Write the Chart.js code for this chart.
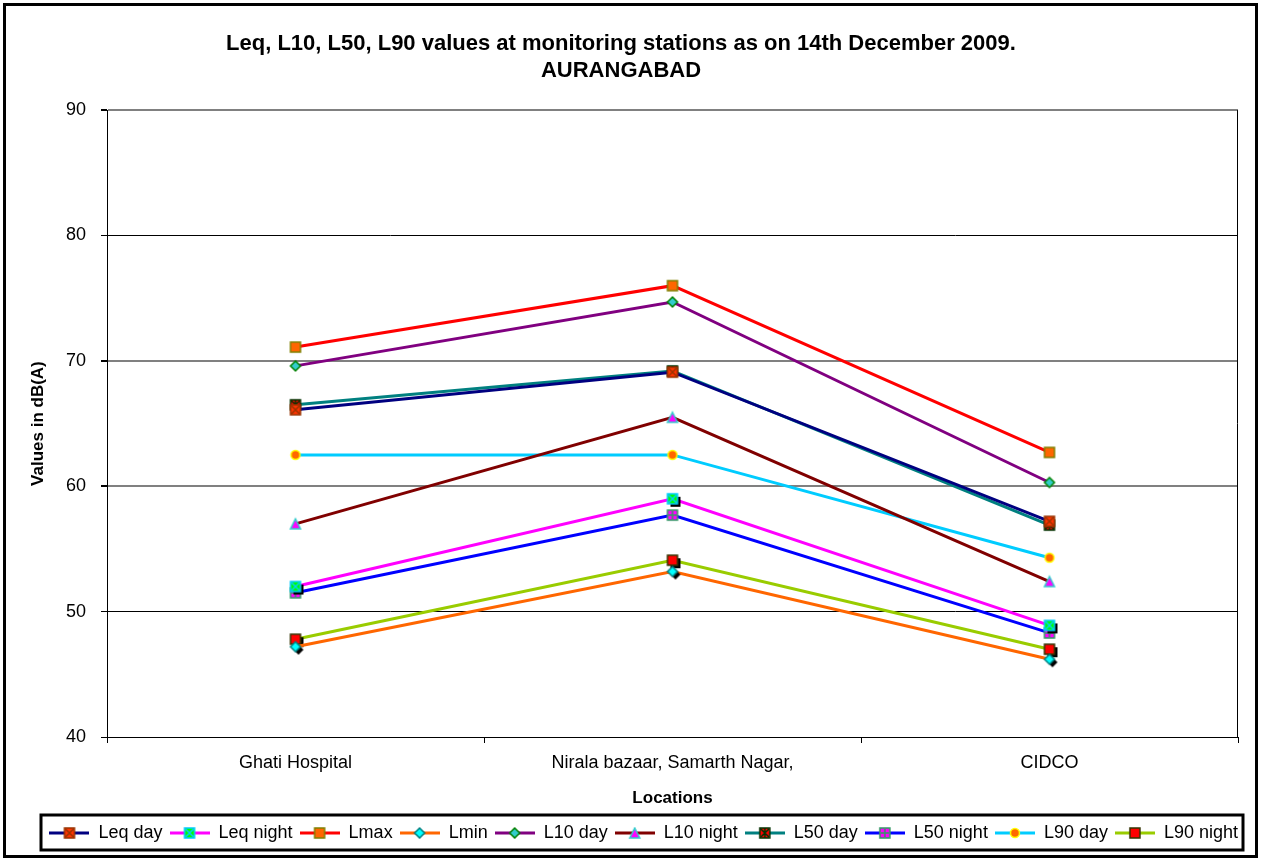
<!DOCTYPE html>
<html>
<head>
<meta charset="utf-8">
<script src="https://cdn.jsdelivr.net/npm/chart.js@4"></script>
<style>
  html, body { margin: 0; padding: 0; background: #fff; }
  #wrap { position: absolute; left: 0; top: 0; width: 1262px; height: 862px; }
</style>
</head>
<body>
<div id="wrap"><canvas id="myChart" width="1262" height="862"></canvas></div>
<script>
// locations on the x axis
const locations = ["Ghati Hospital", "Nirala bazaar, Samarth Nagar,", "CIDCO"];
const yTicks = [40, 50, 60, 70, 80, 90];

// values in dB(A)
const leqDay    = [66.1, 69.1, 57.2];
const leqNight  = [52.0, 59.0, 48.9];
const lmax      = [71.1, 76.0, 62.7];
const lmin      = [47.2, 53.2, 46.2];
const l10Day    = [69.6, 74.7, 60.3];
const l10Night  = [57.0, 65.5, 52.4];
const l50Day    = [66.5, 69.2, 56.9];
const l50Night  = [51.5, 57.7, 48.3];
const l90Day    = [62.5, 62.5, 54.3];
const l90Night  = [47.8, 54.1, 47.0];

const FONT = "'Liberation Sans', Arial, sans-serif";

// little canvases for the excel style markers
const makeMarker = (kind, fill, stroke, extra, lineColor, shadow) => {
    const w = lineColor ? 40 : 20;
    const h = lineColor ? 12 : 20;
    const c = document.createElement("canvas");
    c.width = w; c.height = h;
    const g = c.getContext("2d");
    const cx = w / 2, cy = h / 2;
    if (lineColor) {
        g.strokeStyle = lineColor;
        g.lineWidth = 3;
        g.beginPath(); g.moveTo(0, cy); g.lineTo(w, cy); g.stroke();
    }
    const shape = (x, y) => {
        g.beginPath();
        if (kind == "square") {
            g.rect(x - 5, y - 5, 10, 10);
        } else if (kind == "diamond") {
            g.moveTo(x, y - 5); g.lineTo(x + 5, y); g.lineTo(x, y + 5); g.lineTo(x - 5, y); g.closePath();
        } else if (kind == "triangle") {
            g.moveTo(x, y - 5); g.lineTo(x + 5, y + 5); g.lineTo(x - 5, y + 5); g.closePath();
        } else if (kind == "circle") {
            g.arc(x, y, 4.5, 0, Math.PI * 2);
        }
    };
    if (shadow && !lineColor) {
        g.fillStyle = "#000";
        shape(cx + 3, cy + 3);
        g.fill();
    }
    g.fillStyle = fill;
    g.strokeStyle = stroke;
    g.lineWidth = 1.5;
    shape(cx, cy);
    g.fill();
    g.stroke();
    g.beginPath();
    if (extra == "x" || extra == "star") {
        g.moveTo(cx - 4, cy - 4); g.lineTo(cx + 4, cy + 4);
        g.moveTo(cx + 4, cy - 4); g.lineTo(cx - 4, cy + 4);
    }
    if (extra == "star") {
        g.moveTo(cx, cy - 5); g.lineTo(cx, cy + 5);
    }
    if (extra == "plus") {
        g.moveTo(cx, cy - 4); g.lineTo(cx, cy + 4);
        g.moveTo(cx - 4, cy); g.lineTo(cx + 4, cy);
    }
    g.stroke();
    return c;
};

const series = [
    { label: "Leq day",   data: leqDay,   line: "#000080", kind: "square",   fill: "#FF3300", stroke: "#993300", extra: "x" },
    { label: "Leq night", data: leqNight, line: "#FF00FF", kind: "square",   fill: "#00FF00", stroke: "#00CCFF", extra: "x", shadow: true },
    { label: "Lmax",      data: lmax,     line: "#FF0000", kind: "square",   fill: "#FF6600", stroke: "#808000" },
    { label: "Lmin",      data: lmin,     line: "#FF6600", kind: "diamond",  fill: "#00FFFF", stroke: "#008080", shadow: true },
    { label: "L10 day",   data: l10Day,   line: "#800080", kind: "diamond",  fill: "#33CCCC", stroke: "#008000" },
    { label: "L10 night", data: l10Night, line: "#800000", kind: "triangle", fill: "#FF00FF", stroke: "#33CCCC" },
    { label: "L50 day",   data: l50Day,   line: "#008080", kind: "square",   fill: "#FF0000", stroke: "#003300", extra: "star" },
    { label: "L50 night", data: l50Night, line: "#0000FF", kind: "square",   fill: "#FF00FF", stroke: "#339966", extra: "plus" },
    { label: "L90 day",   data: l90Day,   line: "#00CCFF", kind: "circle",   fill: "#FF6600", stroke: "#FFFF00" },
    { label: "L90 night", data: l90Night, line: "#99CC00", kind: "square",   fill: "#FF0000", stroke: "#333300", shadow: true }
];

const datasets = series.map(s => ({
    label: s.label,
    data: s.data,
    borderColor: s.line,
    backgroundColor: s.line,
    borderWidth: 3,
    tension: 0,
    pointStyle: makeMarker(s.kind, s.fill, s.stroke, s.extra, null, s.shadow),
    legendStyle: makeMarker(s.kind, s.fill, s.stroke, s.extra, s.line),
    pointRadius: 5,
    pointHoverRadius: 5
}));

// black frame round the whole picture, the plot area's right side and the legend
const frames = {
    id: "frames",
    afterLayout(chart) {
        // legend sits a bit right of the plot's centre in the original
        chart.legend.left += 7;
        chart.legend.right += 7;
    },
    beforeDatasetsDraw(chart) {
        const ctx = chart.ctx;
        const a = chart.chartArea;
        ctx.save();
        ctx.strokeStyle = "#000";
        ctx.lineWidth = 1;
        ctx.beginPath();
        ctx.moveTo(Math.round(a.right) - 0.5, a.top);
        ctx.lineTo(Math.round(a.right) - 0.5, a.bottom);
        ctx.stroke();
        ctx.restore();
    },
    afterDraw(chart) {
        const ctx = chart.ctx;
        ctx.save();
        ctx.strokeStyle = "#000";
        ctx.lineWidth = 3;
        ctx.strokeRect(4.5, 4.5, 1252, 852);
        const boxes = chart.legend.legendHitBoxes;
        if (boxes && boxes.length) {
            const l = 41, r = 1243;
            const t = boxes[0].top - 9;
            const b = boxes[0].top + boxes[0].height + 8;
            ctx.strokeRect(l, t, r - l, b - t);
        }
        ctx.restore();
    }
};

let ctx = document.getElementById("myChart").getContext("2d");
let chart = new Chart(ctx, {
    type: "line",
    data: { labels: locations, datasets: datasets },
    plugins: [frames],
    options: {
        responsive: false,
        animation: false,
        layout: { padding: { left: 4, right: 24, top: 6, bottom: 10 } },
        plugins: {
            title: {
                display: true,
                text: ["Leq, L10, L50, L90 values at monitoring stations as on 14th December 2009.", "AURANGABAD"],
                color: "#000",
                font: { family: FONT, size: 22, weight: "bold", lineHeight: 1.23 },
                padding: { top: 24, bottom: 26 }
            },
            legend: {
                position: "bottom",
                align: "end",
                labels: {
                    color: "#000",
                    font: { family: FONT, size: 18 },
                    usePointStyle: true,
                    pointStyleWidth: 40,
                    boxHeight: 12,
                    padding: 7,
                    generateLabels: (ch) => ch.data.datasets.map((d, i) => ({
                        text: d.label,
                        pointStyle: d.legendStyle,
                        fillStyle: d.borderColor,
                        strokeStyle: d.borderColor,
                        lineWidth: 0,
                        datasetIndex: i,
                        hidden: false
                    }))
                }
            },
            tooltip: { enabled: false }
        },
        scales: {
            x: {
                offset: true,
                grid: { display: true, drawOnChartArea: false, offset: true, color: "#000", tickLength: 6 },
                border: { color: "#000", width: 1 },
                ticks: { color: "#000", font: { family: FONT, size: 18 }, padding: 9, maxRotation: 0 },
                title: { display: true, text: "Locations", color: "#000", font: { family: FONT, size: 17, weight: "bold" }, padding: { top: 6, bottom: 8 } }
            },
            y: {
                min: 40,
                max: 90,
                afterBuildTicks: (axis) => { axis.ticks = yTicks.map(v => ({ value: v })); },
                afterFit: (axis) => { axis.width = 103; },
                grid: {
                    color: (c) => (c.tick && (c.tick.value == 80 || c.tick.value == 50 || c.tick.value == 40)) ? "#000" : "#808080",
                    lineWidth: (c) => (c.tick && (c.tick.value == 80 || c.tick.value == 50 || c.tick.value == 40)) ? 1 : 2,
                    tickColor: "#000",
                    tickLength: 6
                },
                border: { color: "#000", width: 1 },
                ticks: { color: "#000", font: { family: FONT, size: 18 }, padding: 15 },
                title: { display: true, text: "Values in dB(A)", color: "#000", font: { family: FONT, size: 17, weight: "bold" }, padding: { top: 24, bottom: 0 } }
            }
        }
    }
});
</script>
</body>
</html>
